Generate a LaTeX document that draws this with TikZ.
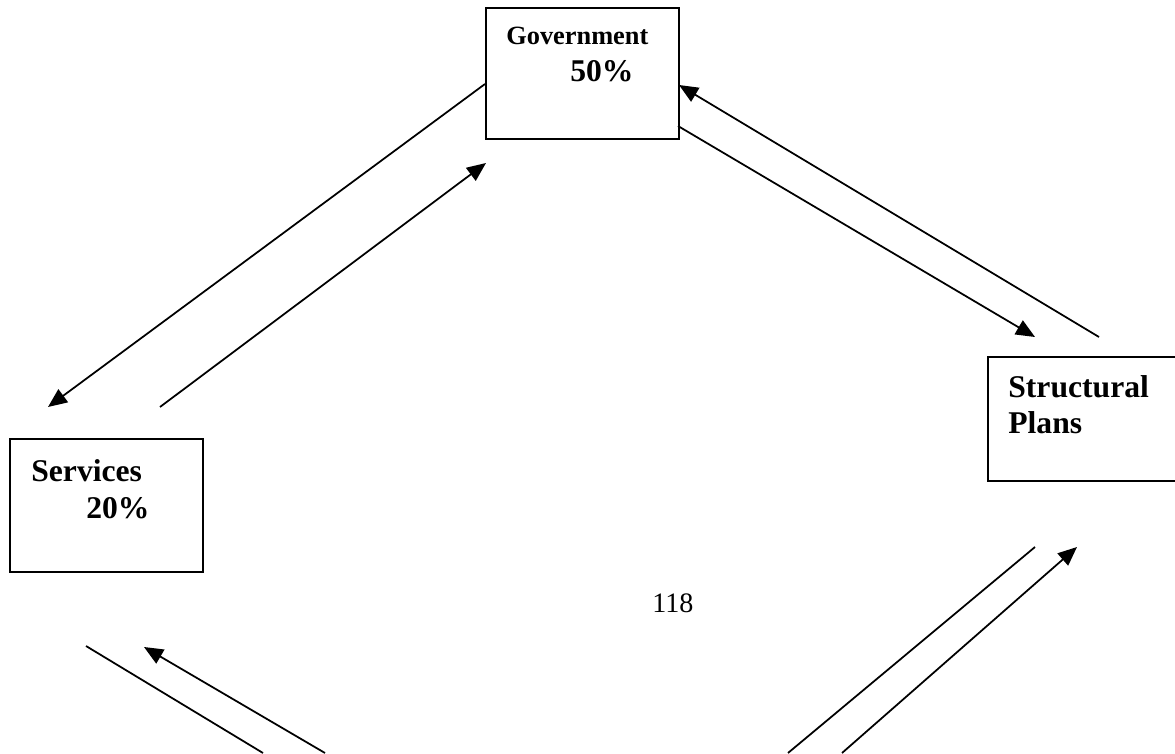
\documentclass[tikz,border=0pt]{standalone}
\usepackage{fontspec}
\setmainfont{Liberation Serif}
\usetikzlibrary{arrows.meta}

\tikzset{
  box/.style={draw, line width=1.2pt, anchor=south west, inner sep=0pt},
  lbl/.style={anchor=base west, inner sep=0pt, font=\fontsize{18}{20}\selectfont\bfseries},
  flow/.style={line width=1pt, -{Triangle[length=3.8mm,width=3.2mm]}},
  plain/.style={line width=1pt}
}

\begin{document}
\begin{tikzpicture}

                  % Page frame
                  \useasboundingbox (0,0) rectangle (23.5,15.06);
                  \clip (0,0) rectangle (23.5,15.06);

                  % Boxes
                  \node[box, minimum width=3.86cm, minimum height=2.62cm] (gov) at (9.70,12.26) {};
                  \node[box, minimum width=5cm, minimum height=2.48cm] (plans) at (19.74,5.42) {};
                  \node[box, minimum width=3.86cm, minimum height=2.66cm] (serv) at (0.18,3.60) {};

                  % Box texts
                  \node[lbl, font=\fontsize{15}{17}\selectfont\bfseries] (govtxt) at (10.12,14.16) {Government};
                  \node[lbl] (govpct) at (11.40,13.42) {50\%};
                  \node[lbl] (planstxt) at (20.16,7.10) {Structural};
                  \node[lbl] (planstxt2) at (20.16,6.40) {Plans};
                  \node[lbl] (servtxt) at (0.62,5.44) {Services};
                  \node[lbl] (servpct) at (1.72,4.70) {20\%};

                  % Page number
                  \node[anchor=base west, inner sep=0pt, font=\fontsize{16}{18}\selectfont] (pg) at (13.04,2.82) {118};

                  % Ends of the connectors
                  \coordinate (gA) at (9.70,13.38);
                  \coordinate (sA) at (0.96,6.92);
                  \coordinate (sB) at (3.20,6.92);
                  \coordinate (gB) at (9.72,11.80);
                  \coordinate (pA) at (21.98,8.32);
                  \coordinate (gC) at (13.58,13.36);
                  \coordinate (gD) at (13.56,12.54);
                  \coordinate (pB) at (20.70,8.32);

                  % Government <-> Services
                  \draw[flow] (gA) -- (sA);
                  \draw[flow] (sB) -- (gB);

                  % Government <-> Structural Plans
                  \draw[flow] (pA) -- (gC);
                  \draw[flow] (gD) -- (pB);

                  % Lines from below the page
                  \coordinate (sC) at (1.72,2.14);
                  \coordinate (bA) at (5.26,0);
                  \coordinate (bB) at (6.50,0);
                  \coordinate (sD) at (2.88,2.12);
                  \draw[plain] (sC) -- (bA);
                  \draw[flow] (bB) -- (sD);

                  \coordinate (bC) at (15.76,0);
                  \coordinate (pC) at (20.70,4.12);
                  \coordinate (bD) at (16.84,0);
                  \coordinate (pD) at (21.54,4.12);
                  \draw[plain] (bC) -- (pC);
                  \draw[flow] (bD) -- (pD);

\end{tikzpicture}
\end{document}
